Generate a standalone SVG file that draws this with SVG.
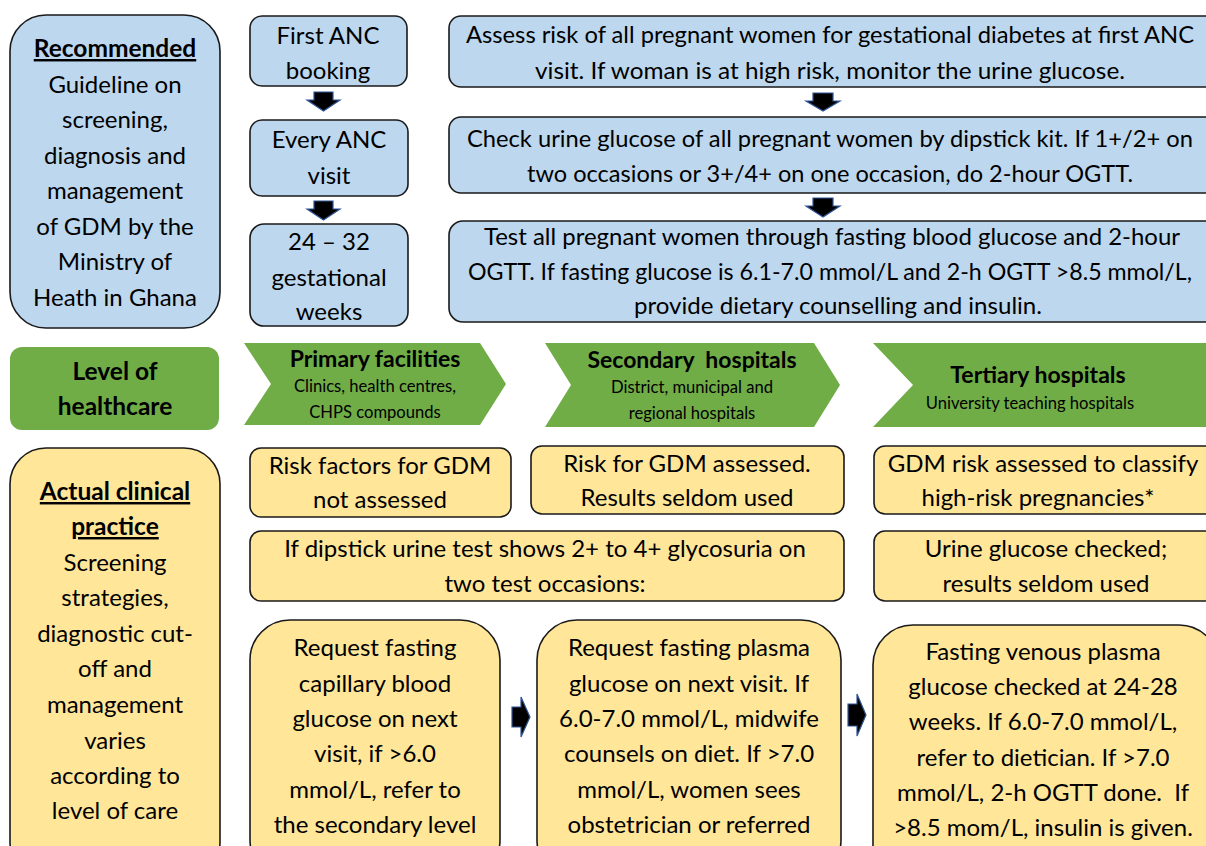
<svg xmlns="http://www.w3.org/2000/svg" width="1206" height="846" viewBox="0 0 1206 846">
<style>
.b{fill:#BDD7EE;stroke:#1a1a1a;stroke-width:1.6}
.y{fill:#FFE699;stroke:#1a1a1a;stroke-width:1.6}
.g{fill:#70AD47}
.t{font-family:Lato,"Liberation Sans",sans-serif;font-size:24px;fill:#000;text-anchor:middle}
.h{font-family:Lato,"Liberation Sans",sans-serif;font-size:24.5px;font-weight:bold;fill:#000;text-anchor:middle}
.c{font-family:Lato,"Liberation Sans",sans-serif;font-size:23px;font-weight:bold;fill:#000;text-anchor:middle}
.s{font-family:Lato,"Liberation Sans",sans-serif;font-size:16.6px;fill:#000;text-anchor:middle}
.u{text-decoration:underline}
.a{fill:#000;stroke:#2F5597;stroke-width:1.2}
</style>
<rect width="1206" height="846" fill="#fff"/>
<g id="recommended"><rect class="b" x="10" y="15" width="210" height="313" rx="36"/>
<text class="h u" x="115" y="57">Recommended</text>
<text class="t" x="115" y="93">Guideline on</text><text class="t" x="115" y="128">screening,</text><text class="t" x="115" y="164">diagnosis and</text><text class="t" x="115" y="199">management</text><text class="t" x="115" y="235">of GDM by the</text><text class="t" x="115" y="270">Ministry of</text><text class="t" x="115" y="306">Heath in Ghana</text></g>
<g id="first-anc"><rect class="b" x="250" y="16" width="157" height="70" rx="12"/><text class="t" x="328" y="44">First ANC</text><text class="t" x="328" y="79">booking</text></g>
<g id="every-anc"><rect class="b" x="250" y="120" width="158" height="76" rx="12"/><text class="t" x="329" y="148">Every ANC</text><text class="t" x="329" y="184">visit</text></g>
<g id="weeks"><rect class="b" x="250" y="224" width="158" height="102" rx="14"/><text class="t" x="329" y="250">24 – 32</text><text class="t" x="329" y="286">gestational</text><text class="t" x="329" y="320">weeks</text></g>
<g id="assess"><rect class="b" x="449" y="16" width="770" height="71" rx="12"/><text class="t" x="830" y="43" textLength="728" lengthAdjust="spacingAndGlyphs">Assess risk of all pregnant women for gestational diabetes at first ANC</text><text class="t" x="830" y="79" textLength="590" lengthAdjust="spacingAndGlyphs">visit. If woman is at high risk, monitor the urine glucose.</text></g>
<g id="check"><rect class="b" x="449" y="117" width="770" height="76" rx="12"/><text class="t" x="830" y="147" textLength="726" lengthAdjust="spacingAndGlyphs">Check urine glucose of all pregnant women by dipstick kit. If 1+/2+ on</text><text class="t" x="830" y="182" textLength="606" lengthAdjust="spacingAndGlyphs">two occasions or 3+/4+ on one occasion, do 2-hour OGTT.</text></g>
<g id="test"><rect class="b" x="449" y="221" width="770" height="101" rx="14"/><text class="t" x="832" y="245" textLength="696" lengthAdjust="spacingAndGlyphs">Test all pregnant women through fasting blood glucose and 2-hour</text><text class="t" x="830" y="280" font-size="22.5" textLength="724" lengthAdjust="spacingAndGlyphs">OGTT. If fasting glucose is 6.1-7.0 mmol/L and 2-h OGTT &gt;8.5 mmol/L,</text><text class="t" x="838" y="314" textLength="408" lengthAdjust="spacingAndGlyphs">provide dietary counselling and insulin.</text></g>
<g id="level"><rect class="g" x="10" y="347" width="209" height="83" rx="12"/><text class="h" x="115" y="380">Level of</text><text class="h" x="115" y="415">healthcare</text></g>
<g id="primary"><path class="g" d="M244,343 H480 L506,384 L480,425 H244 L271,384 Z"/><text class="c" x="375" y="367">Primary facilities</text><text class="s" x="375" y="392">Clinics, health centres,</text><text class="s" x="375" y="418">CHPS compounds</text></g>
<g id="secondary"><path class="g" d="M545,343 H814 L840,385 L814,427 H545 L571,385 Z"/><text class="c" x="692" y="368" xml:space="preserve">Secondary  hospitals</text><text class="s" x="692" y="393">District, municipal and</text><text class="s" x="692" y="419">regional hospitals</text></g>
<g id="tertiary"><path class="g" d="M873,343 H1210 V427 H873 L913,385 Z"/><text class="c" x="1038" y="383">Tertiary hospitals</text><text class="s" x="1030" y="409">University teaching hospitals</text></g>
<g id="actual"><rect class="y" x="10" y="448" width="210" height="430" rx="36"/>
<text class="h u" x="115" y="500">Actual clinical</text><text class="h u" x="115" y="535">practice</text>
<text class="t" x="115" y="571">Screening</text><text class="t" x="115" y="606">strategies,</text><text class="t" x="115" y="642">diagnostic cut-</text><text class="t" x="115" y="677">off and</text><text class="t" x="115" y="713">management</text><text class="t" x="115" y="749">varies</text><text class="t" x="115" y="784">according to</text><text class="t" x="115" y="819">level of care</text></g>
<g id="risk-primary"><rect class="y" x="250" y="448" width="261" height="69" rx="11"/><text class="t" x="380" y="474">Risk factors for GDM</text><text class="t" x="380" y="508">not assessed</text></g>
<g id="risk-secondary"><rect class="y" x="531" y="446" width="313" height="68" rx="11"/><text class="t" x="687" y="472">Risk for GDM assessed.</text><text class="t" x="687" y="506">Results seldom used</text></g>
<g id="risk-tertiary"><rect class="y" x="874" y="446" width="346" height="68" rx="11"/><text class="t" x="1043" y="472">GDM risk assessed to classify</text><text class="t" x="1038" y="506">high-risk pregnancies*</text></g>
<g id="dipstick"><rect class="y" x="250" y="531" width="594" height="70" rx="11"/><text class="t" x="545" y="557">If dipstick urine test shows 2+ to 4+ glycosuria on</text><text class="t" x="545" y="592">two test occasions:</text></g>
<g id="urine-tertiary"><rect class="y" x="874" y="531" width="346" height="70" rx="11"/><text class="t" x="1046" y="557">Urine glucose checked;</text><text class="t" x="1046" y="592">results seldom used</text></g>
<g id="request-primary"><rect class="y" x="250" y="620" width="250" height="260" rx="40"/><text class="t" x="375" y="656">Request fasting</text><text class="t" x="375" y="692">capillary blood</text><text class="t" x="375" y="727">glucose on next</text><text class="t" x="375" y="762">visit, if &gt;6.0</text><text class="t" x="375" y="798">mmol/L, refer to</text><text class="t" x="375" y="833">the secondary level</text></g>
<g id="request-secondary"><rect class="y" x="537" y="620" width="304" height="260" rx="40"/><text class="t" x="689" y="656">Request fasting plasma</text><text class="t" x="689" y="692">glucose on next visit. If</text><text class="t" x="689" y="727">6.0-7.0 mmol/L, midwife</text><text class="t" x="689" y="762">counsels on diet. If &gt;7.0</text><text class="t" x="689" y="798">mmol/L, women sees</text><text class="t" x="689" y="833">obstetrician or referred</text></g>
<g id="fasting-tertiary"><rect class="y" x="873" y="625" width="346" height="260" rx="40"/><text class="t" x="1043" y="660">Fasting venous plasma</text><text class="t" x="1043" y="695">glucose checked at 24-28</text><text class="t" x="1043" y="730">weeks. If 6.0-7.0 mmol/L,</text><text class="t" x="1043" y="766">refer to dietician. If &gt;7.0</text><text class="t" x="1043" y="801" xml:space="preserve">mmol/L, 2-h OGTT done.  If</text><text class="t" x="1043" y="836">&gt;8.5 mom/L, insulin is given.</text></g>
<g id="connectors">
<path class="a" d="M314,92 H333 V100 H340 L323.5,111 L307,100 H314 Z"/>
<path class="a" d="M314,201 H333 V209 H340 L323.5,220 L307,209 H314 Z"/>
<path class="a" d="M813,93 H833 V101 H840 L823,111 L806,101 H813 Z"/>
<path class="a" d="M813,198 H833 V206 H840 L823,217 L806,206 H813 Z"/>
<path class="a" d="M512,707 H521 V697 L530,717 L521,737 V727 H512 Z"/>
<path class="a" d="M848,704 H857 V694 L866,715 L857,736 V726 H848 Z"/>
</g>
</svg>
